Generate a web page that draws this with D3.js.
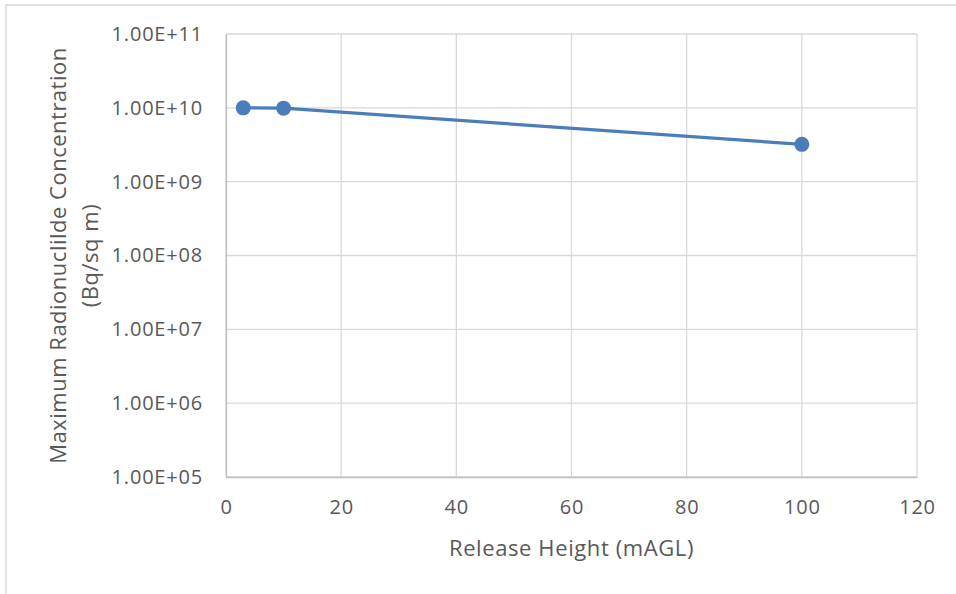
<!DOCTYPE html>
<html>
<head>
<meta charset="utf-8">
<script src="https://cdn.jsdelivr.net/npm/d3@7"></script>
<style>
  body { margin: 0; background: #fff; }
  text { font-family: "Open Sans", Lato, sans-serif; fill: #595959; }
</style>
</head>
<body>
<svg id="chart" width="956" height="594"></svg>
<script>
// release heights (mAGL) and max concentrations (Bq/sq m)
const heights = [3, 10, 100];
const concentrations = [1.0e10, 9.9e9, 3.2e9];
const xTicks = [0, 20, 40, 60, 80, 100, 120];
const yTicks = [1e5, 1e6, 1e7, 1e8, 1e9, 1e10, 1e11];

const svg = d3.select("#chart");
const m = {left: 226, right: 956 - 917, top: 34, bottom: 594 - 477};
const w = 956 - m.left - m.right, h = 594 - m.top - m.bottom;

// outer chart border
svg.append("rect").attr("x", 6).attr("y", 5).attr("width", 960).attr("height", 600)
  .attr("fill", "none").attr("stroke", "#d9d9d9").attr("stroke-width", 1.5);

const x = d3.scaleLinear().domain([0, 120]).range([m.left, m.left + w]);
const y = d3.scaleLog().domain([1e5, 1e11]).range([m.top + h, m.top]);

// gridlines
svg.append("g").selectAll("line").data(yTicks).join("line")
  .attr("x1", m.left).attr("x2", m.left + w)
  .attr("y1", d => y(d)).attr("y2", d => y(d))
  .attr("stroke", "#d9d9d9").attr("stroke-width", 1.3);
svg.append("g").selectAll("line").data(xTicks).join("line")
  .attr("x1", d => x(d)).attr("x2", d => x(d))
  .attr("y1", m.top).attr("y2", m.top + h)
  .attr("stroke", "#d9d9d9").attr("stroke-width", 1.3);

// axes
const xAxis = svg.append("g").attr("transform", `translate(0,${m.top + h})`)
  .call(d3.axisBottom(x).tickValues(xTicks).tickSize(0).tickPadding(23));
xAxis.select(".domain").attr("stroke", "#bfbfbf").attr("stroke-width", 1.3);
xAxis.selectAll("text").style("font-size", "20px").style("letter-spacing", "0.8px")
  .style("font-family", null);

const yAxis = svg.append("g").attr("transform", `translate(${m.left},0)`)
  .call(d3.axisLeft(y).tickValues(yTicks).tickSize(0).tickPadding(23)
    .tickFormat(d => d.toExponential(2).toUpperCase().replace(/E\+(\d)$/, "E+0$1")));
yAxis.select(".domain").attr("stroke", "#bfbfbf").attr("stroke-width", 1.3);
yAxis.selectAll("text").style("font-size", "20px").style("letter-spacing", "0.8px")
  .style("font-family", null);

// axis titles
svg.append("text").attr("x", x(60)).attr("y", 556).attr("text-anchor", "middle")
  .style("font-size", "22px").style("letter-spacing", "0.6px").text("Release Height (mAGL)");
const yt = svg.append("text").attr("transform", `translate(58,${m.top + h / 2}) rotate(-90)`)
  .attr("text-anchor", "middle").style("font-size", "22px").style("letter-spacing", "0.5px");
yt.append("tspan").attr("x", 0).attr("dy", "0.35em").text("Maximum Radionuclilde Concentration");
yt.append("tspan").attr("x", 0).attr("dy", "1.45em").text("(Bq/sq m)");

// series
const pts = heights.map((d, i) => [d, concentrations[i]]);
svg.append("path").datum(pts)
  .attr("fill", "none").attr("stroke", "#4a7ebb").attr("stroke-width", 3.2)
  .attr("d", d3.line().x(d => x(d[0])).y(d => y(d[1])));
svg.append("g").selectAll("circle").data(pts).join("circle")
  .attr("cx", d => x(d[0])).attr("cy", d => y(d[1])).attr("r", 7.5)
  .attr("fill", "#4a7ebb");
</script>
</body>
</html>
